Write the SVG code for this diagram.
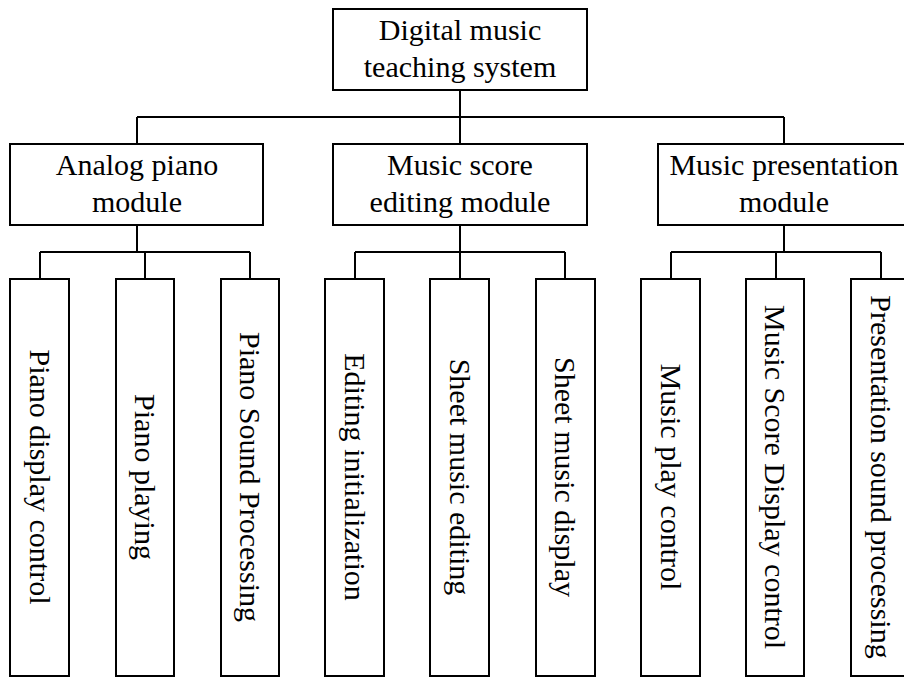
<svg xmlns="http://www.w3.org/2000/svg" width="904" height="677" viewBox="0 0 904 677">
<style>
.box{fill:#fff;stroke:#000;stroke-width:2}
.ln{fill:none;stroke:#000;stroke-width:2}
text{font-family:"Liberation Serif","Times New Roman",serif;font-size:30px;fill:#000;text-anchor:middle}
</style>
<rect width="904" height="677" fill="#fff"/>
<g id="connectors">
<path class="ln" d="M460 90V117M137 117H784M137 117V144M460 117V144M784 117V144"/>
<path class="ln" d="M137 225V252M40 252H250M40 252V279M145 252V279M250 252V279"/>
<path class="ln" d="M460 225V252M355 252H565M355 252V279M460 252V279M565 252V279"/>
<path class="ln" d="M784 225V252M671 252H881M671 252V279M776 252V279M881 252V279"/>
</g>
<g id="root"><rect class="box" x="333" y="9" width="254" height="81"/><text x="460" y="40">Digital music</text><text x="460" y="77">teaching system</text></g>
<g id="analog"><rect class="box" x="10" y="144" width="253" height="81"/><text x="137" y="175">Analog piano</text><text x="137" y="212">module</text></g>
<g id="score"><rect class="box" x="333" y="144" width="254" height="81"/><text x="460" y="175">Music score</text><text x="460" y="212">editing module</text></g>
<g id="presentation"><rect class="box" x="658" y="144" width="254" height="81"/><text x="784" y="175">Music presentation</text><text x="784" y="212">module</text></g>
<g id="c1"><rect class="box" x="10" y="279" width="59" height="397"/><text transform="translate(40 477) rotate(90)" y="10">Piano display control</text></g>
<g id="c2"><rect class="box" x="116" y="279" width="58" height="397"/><text transform="translate(145 477) rotate(90)" y="10">Piano playing</text></g>
<g id="c3"><rect class="box" x="221" y="279" width="58" height="397"/><text transform="translate(250 477) rotate(90)" y="10">Piano Sound Processing</text></g>
<g id="c4"><rect class="box" x="325" y="279" width="59" height="397"/><text transform="translate(355 477) rotate(90)" y="10">Editing initialization</text></g>
<g id="c5"><rect class="box" x="430" y="279" width="59" height="397"/><text transform="translate(460 477) rotate(90)" y="10">Sheet music editing</text></g>
<g id="c6"><rect class="box" x="536" y="279" width="59" height="397"/><text transform="translate(565 477) rotate(90)" y="10">Sheet music display</text></g>
<g id="c7"><rect class="box" x="641" y="279" width="59" height="397"/><text transform="translate(671 477) rotate(90)" y="10">Music play control</text></g>
<g id="c8"><rect class="box" x="746" y="279" width="58" height="397"/><text transform="translate(775 477) rotate(90)" y="10">Music Score Display control</text></g>
<g id="c9"><rect class="box" x="851" y="279" width="59" height="397"/><text transform="translate(881 477) rotate(90)" y="10">Presentation sound processing</text></g>
</svg>
